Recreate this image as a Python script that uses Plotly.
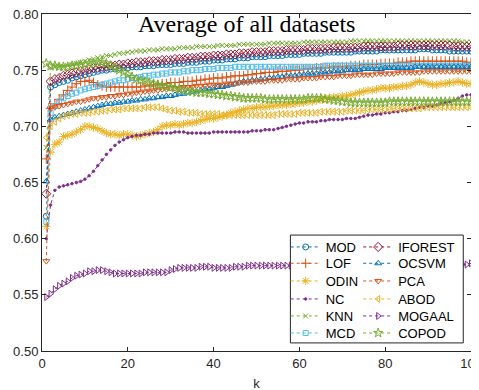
import plotly.graph_objects as go

k = list(range(1, 101))

MOD = [0.620, 0.735, 0.737, 0.739, 0.740, 0.741, 0.743, 0.744, 0.745, 0.746,
       0.747, 0.748, 0.749, 0.750, 0.750, 0.751, 0.751, 0.752, 0.752, 0.752,
       0.753, 0.753, 0.753, 0.754, 0.754, 0.754, 0.755, 0.755, 0.755, 0.755,
       0.756, 0.756, 0.756, 0.757, 0.757, 0.757, 0.758, 0.758, 0.758, 0.759,
       0.759, 0.759, 0.760, 0.760, 0.760, 0.761, 0.761, 0.761, 0.762, 0.762,
       0.762, 0.762, 0.763, 0.763, 0.763, 0.763, 0.764, 0.764, 0.764, 0.764,
       0.765, 0.765, 0.765, 0.765, 0.765, 0.766, 0.766, 0.766, 0.766, 0.766,
       0.766, 0.766, 0.767, 0.767, 0.767, 0.767, 0.767, 0.767, 0.768, 0.768,
       0.768, 0.768, 0.768, 0.768, 0.768, 0.768, 0.768, 0.769, 0.769, 0.769,
       0.768, 0.768, 0.768, 0.768, 0.767, 0.767, 0.767, 0.767, 0.767, 0.767]

IFOREST = [0.640, 0.740, 0.742, 0.743, 0.745, 0.746, 0.747, 0.748, 0.749, 0.750,
           0.751, 0.752, 0.752, 0.753, 0.753, 0.754, 0.754, 0.755, 0.755, 0.756,
           0.756, 0.757, 0.757, 0.757, 0.758, 0.758, 0.758, 0.759, 0.759, 0.759,
           0.760, 0.760, 0.760, 0.761, 0.761, 0.761, 0.762, 0.762, 0.762, 0.763,
           0.763, 0.763, 0.764, 0.764, 0.764, 0.765, 0.765, 0.765, 0.766, 0.766,
           0.766, 0.766, 0.767, 0.767, 0.767, 0.767, 0.768, 0.768, 0.768, 0.768,
           0.768, 0.769, 0.769, 0.769, 0.769, 0.769, 0.769, 0.770, 0.770, 0.770,
           0.770, 0.770, 0.770, 0.770, 0.771, 0.771, 0.771, 0.771, 0.771, 0.771,
           0.771, 0.771, 0.772, 0.772, 0.772, 0.772, 0.772, 0.772, 0.772, 0.772,
           0.772, 0.772, 0.772, 0.772, 0.772, 0.771, 0.771, 0.771, 0.771, 0.771]

KNN = [0.681, 0.752, 0.753, 0.753, 0.753, 0.754, 0.755, 0.756, 0.757, 0.758,
       0.759, 0.760, 0.761, 0.762, 0.763, 0.763, 0.764, 0.765, 0.765, 0.766,
       0.766, 0.767, 0.767, 0.767, 0.768, 0.768, 0.768, 0.769, 0.769, 0.769,
       0.769, 0.770, 0.770, 0.770, 0.770, 0.771, 0.771, 0.771, 0.771, 0.771,
       0.772, 0.772, 0.772, 0.772, 0.772, 0.773, 0.773, 0.773, 0.773, 0.773,
       0.773, 0.773, 0.774, 0.774, 0.774, 0.774, 0.774, 0.774, 0.774, 0.774,
       0.775, 0.775, 0.775, 0.775, 0.775, 0.775, 0.775, 0.775, 0.775, 0.775,
       0.775, 0.776, 0.776, 0.776, 0.776, 0.776, 0.776, 0.776, 0.776, 0.776,
       0.776, 0.776, 0.776, 0.776, 0.776, 0.776, 0.776, 0.776, 0.776, 0.776,
       0.776, 0.776, 0.776, 0.776, 0.776, 0.776, 0.776, 0.775, 0.775, 0.775]

COPOD = [0.756, 0.754, 0.754, 0.753, 0.753, 0.753, 0.754, 0.754, 0.755, 0.755,
         0.756, 0.756, 0.757, 0.757, 0.756, 0.754, 0.752, 0.750, 0.748, 0.746,
         0.744, 0.742, 0.741, 0.740, 0.739, 0.738, 0.737, 0.736, 0.735, 0.735,
         0.734, 0.733, 0.732, 0.731, 0.731, 0.730, 0.730, 0.730, 0.729, 0.729,
         0.728, 0.728, 0.727, 0.727, 0.726, 0.726, 0.725, 0.725, 0.725, 0.725,
         0.725, 0.724, 0.724, 0.724, 0.724, 0.724, 0.724, 0.724, 0.724, 0.724,
         0.724, 0.725, 0.725, 0.725, 0.725, 0.724, 0.724, 0.723, 0.723, 0.722,
         0.722, 0.721, 0.721, 0.721, 0.721, 0.721, 0.721, 0.721, 0.721, 0.721,
         0.722, 0.722, 0.722, 0.722, 0.722, 0.722, 0.722, 0.722, 0.722, 0.722,
         0.722, 0.722, 0.722, 0.722, 0.722, 0.722, 0.722, 0.722, 0.722, 0.722]

MCD = [0.615, 0.712, 0.718, 0.722, 0.725, 0.727, 0.729, 0.730, 0.732, 0.733,
       0.734, 0.735, 0.736, 0.737, 0.738, 0.739, 0.740, 0.741, 0.741, 0.742,
       0.743, 0.743, 0.744, 0.745, 0.745, 0.746, 0.746, 0.747, 0.747, 0.748,
       0.748, 0.748, 0.749, 0.749, 0.750, 0.750, 0.750, 0.751, 0.751, 0.751,
       0.752, 0.752, 0.752, 0.752, 0.753, 0.753, 0.753, 0.753, 0.753, 0.753,
       0.753, 0.753, 0.753, 0.753, 0.753, 0.753, 0.753, 0.753, 0.753, 0.753,
       0.753, 0.753, 0.753, 0.753, 0.753, 0.754, 0.754, 0.754, 0.754, 0.754,
       0.754, 0.754, 0.754, 0.754, 0.754, 0.754, 0.754, 0.754, 0.754, 0.754,
       0.754, 0.754, 0.754, 0.754, 0.754, 0.754, 0.754, 0.754, 0.754, 0.754,
       0.754, 0.754, 0.754, 0.754, 0.754, 0.754, 0.754, 0.754, 0.754, 0.754]

LOF = [0.671, 0.716, 0.720, 0.724, 0.728, 0.732, 0.735, 0.738, 0.740, 0.740,
       0.741, 0.739, 0.737, 0.736, 0.735, 0.735, 0.735, 0.735, 0.735, 0.735,
       0.735, 0.735, 0.735, 0.736, 0.736, 0.737, 0.737, 0.738, 0.738, 0.739,
       0.739, 0.739, 0.740, 0.740, 0.740, 0.741, 0.741, 0.742, 0.742, 0.743,
       0.743, 0.743, 0.744, 0.744, 0.745, 0.745, 0.745, 0.746, 0.746, 0.747,
       0.747, 0.748, 0.748, 0.748, 0.749, 0.749, 0.749, 0.750, 0.750, 0.750,
       0.751, 0.751, 0.751, 0.752, 0.752, 0.752, 0.752, 0.753, 0.753, 0.753,
       0.753, 0.754, 0.754, 0.754, 0.755, 0.755, 0.755, 0.755, 0.756, 0.756,
       0.756, 0.756, 0.757, 0.757, 0.757, 0.758, 0.758, 0.758, 0.758, 0.758,
       0.758, 0.758, 0.758, 0.758, 0.758, 0.758, 0.758, 0.758, 0.757, 0.757]

OCSVM = [0.651, 0.706, 0.708, 0.709, 0.710, 0.711, 0.712, 0.713, 0.714, 0.715,
         0.716, 0.717, 0.718, 0.719, 0.720, 0.720, 0.721, 0.721, 0.722, 0.722,
         0.723, 0.723, 0.724, 0.724, 0.725, 0.725, 0.726, 0.726, 0.727, 0.727,
         0.728, 0.729, 0.729, 0.730, 0.731, 0.731, 0.732, 0.733, 0.733, 0.734,
         0.735, 0.735, 0.736, 0.737, 0.738, 0.739, 0.740, 0.740, 0.741, 0.741,
         0.742, 0.742, 0.743, 0.743, 0.744, 0.744, 0.745, 0.745, 0.745, 0.746,
         0.746, 0.747, 0.747, 0.747, 0.748, 0.748, 0.748, 0.749, 0.749, 0.749,
         0.750, 0.750, 0.750, 0.750, 0.751, 0.751, 0.751, 0.751, 0.751, 0.752,
         0.752, 0.752, 0.752, 0.752, 0.752, 0.752, 0.753, 0.753, 0.753, 0.753,
         0.753, 0.753, 0.753, 0.753, 0.753, 0.753, 0.753, 0.753, 0.753, 0.753]

PCA = [0.580, 0.716, 0.717, 0.718, 0.719, 0.720, 0.721, 0.722, 0.722, 0.723,
       0.724, 0.725, 0.725, 0.726, 0.726, 0.727, 0.727, 0.728, 0.728, 0.729,
       0.729, 0.730, 0.730, 0.731, 0.731, 0.732, 0.732, 0.733, 0.733, 0.734,
       0.734, 0.734, 0.735, 0.735, 0.735, 0.736, 0.736, 0.736, 0.737, 0.737,
       0.737, 0.737, 0.738, 0.738, 0.738, 0.739, 0.739, 0.739, 0.740, 0.740,
       0.740, 0.740, 0.741, 0.741, 0.741, 0.741, 0.742, 0.742, 0.742, 0.742,
       0.743, 0.743, 0.743, 0.743, 0.744, 0.744, 0.744, 0.744, 0.745, 0.745,
       0.745, 0.745, 0.746, 0.746, 0.746, 0.746, 0.746, 0.747, 0.747, 0.747,
       0.747, 0.747, 0.748, 0.748, 0.748, 0.748, 0.748, 0.748, 0.749, 0.749,
       0.749, 0.749, 0.749, 0.749, 0.749, 0.749, 0.749, 0.749, 0.749, 0.749]

ODIN = [0.611, 0.677, 0.684, 0.686, 0.691, 0.692, 0.693, 0.695, 0.697, 0.700,
        0.700, 0.699, 0.698, 0.696, 0.694, 0.693, 0.693, 0.692, 0.693, 0.693,
        0.692, 0.691, 0.692, 0.693, 0.694, 0.695, 0.697, 0.700, 0.701, 0.701,
        0.702, 0.701, 0.702, 0.703, 0.703, 0.704, 0.705, 0.706, 0.707, 0.707,
        0.708, 0.709, 0.710, 0.712, 0.713, 0.714, 0.715, 0.716, 0.716, 0.717,
        0.717, 0.717, 0.718, 0.718, 0.719, 0.719, 0.719, 0.720, 0.720, 0.721,
        0.721, 0.722, 0.722, 0.723, 0.724, 0.725, 0.725, 0.726, 0.726, 0.727,
        0.727, 0.728, 0.729, 0.730, 0.731, 0.732, 0.732, 0.733, 0.734, 0.734,
        0.734, 0.735, 0.735, 0.736, 0.736, 0.737, 0.739, 0.740, 0.739, 0.738,
        0.737, 0.737, 0.738, 0.738, 0.739, 0.739, 0.740, 0.739, 0.738, 0.738]

ABOD = [0.690, 0.700, 0.704, 0.707, 0.709, 0.710, 0.711, 0.711, 0.712, 0.712,
        0.712, 0.713, 0.713, 0.714, 0.714, 0.715, 0.715, 0.715, 0.716, 0.716,
        0.716, 0.716, 0.716, 0.717, 0.717, 0.717, 0.717, 0.716, 0.715, 0.714,
        0.714, 0.713, 0.713, 0.712, 0.712, 0.712, 0.711, 0.711, 0.711, 0.711,
        0.711, 0.710, 0.710, 0.710, 0.710, 0.710, 0.710, 0.710, 0.710, 0.710,
        0.710, 0.710, 0.710, 0.710, 0.711, 0.711, 0.711, 0.711, 0.711, 0.712,
        0.712, 0.712, 0.712, 0.712, 0.713, 0.713, 0.713, 0.713, 0.713, 0.713,
        0.714, 0.714, 0.714, 0.714, 0.714, 0.715, 0.715, 0.715, 0.715, 0.715,
        0.715, 0.716, 0.716, 0.716, 0.716, 0.716, 0.716, 0.716, 0.717, 0.717,
        0.717, 0.717, 0.717, 0.717, 0.717, 0.717, 0.717, 0.717, 0.717, 0.717]

NC = [0.600, 0.630, 0.643, 0.646, 0.647, 0.648, 0.649, 0.650, 0.651, 0.653,
      0.656, 0.660, 0.665, 0.670, 0.675, 0.679, 0.683, 0.686, 0.688, 0.690,
      0.691, 0.692, 0.692, 0.693, 0.693, 0.694, 0.694, 0.694, 0.694, 0.694,
      0.695, 0.695, 0.695, 0.694, 0.694, 0.694, 0.694, 0.694, 0.694, 0.695,
      0.695, 0.695, 0.695, 0.695, 0.695, 0.695, 0.695, 0.695, 0.696, 0.696,
      0.696, 0.697, 0.697, 0.697, 0.698, 0.699, 0.700, 0.701, 0.702, 0.703,
      0.703, 0.704, 0.704, 0.704, 0.705, 0.705, 0.706, 0.706, 0.706, 0.706,
      0.707, 0.707, 0.707, 0.708, 0.709, 0.710, 0.710, 0.711, 0.711, 0.712,
      0.712, 0.713, 0.713, 0.714, 0.714, 0.715, 0.716, 0.717, 0.717, 0.718,
      0.718, 0.719, 0.720, 0.721, 0.722, 0.723, 0.725, 0.727, 0.728, 0.728]

MOGAAL = [0.548, 0.551, 0.555, 0.558, 0.560, 0.562, 0.565, 0.567, 0.568, 0.569,
          0.571, 0.571, 0.572, 0.572, 0.571, 0.570, 0.569, 0.569, 0.569, 0.569,
          0.569, 0.569, 0.569, 0.570, 0.570, 0.570, 0.570, 0.570, 0.570, 0.572,
          0.573, 0.574, 0.574, 0.574, 0.574, 0.574, 0.575, 0.575, 0.575, 0.574,
          0.574, 0.574, 0.574, 0.574, 0.575, 0.575, 0.575, 0.576, 0.576, 0.576,
          0.576, 0.576, 0.576, 0.576, 0.576, 0.576, 0.576, 0.576, 0.576, 0.576,
          0.577, 0.577, 0.577, 0.577, 0.577, 0.577, 0.577, 0.577, 0.577, 0.577,
          0.577, 0.577, 0.577, 0.577, 0.577, 0.577, 0.577, 0.577, 0.577, 0.577,
          0.577, 0.577, 0.577, 0.577, 0.577, 0.577, 0.577, 0.577, 0.577, 0.577,
          0.577, 0.577, 0.577, 0.577, 0.577, 0.577, 0.577, 0.577, 0.577, 0.578]

x_ticks = [0, 20, 40, 60, 80, 100]
y_ticks = [0.50, 0.55, 0.60, 0.65, 0.70, 0.75, 0.80]
y_ticklabels = ["0.50", "0.55", "0.60", "0.65", "0.70", "0.75", "0.80"]

# (name, data, color, symbol, size, legend column, legend row)
series = [
    ("MOD", MOD, "#0072BD", "circle-open", 6, 0, 0),
    ("LOF", LOF, "#D95319", "cross-thin-open", 7, 0, 1),
    ("ODIN", ODIN, "#EDB120", "asterisk-open", 7, 0, 2),
    ("NC", NC, "#7E2F8E", "circle", 2.5, 0, 3),
    ("KNN", KNN, "#77AC30", "x-thin-open", 5, 0, 4),
    ("MCD", MCD, "#4DBEEE", "square-open", 5, 0, 5),
    ("IFOREST", IFOREST, "#A2142F", "diamond-open", 7, 1, 0),
    ("OCSVM", OCSVM, "#0072BD", "triangle-up-open", 6, 1, 1),
    ("PCA", PCA, "#D95319", "triangle-down-open", 6, 1, 2),
    ("ABOD", ABOD, "#EDB120", "triangle-left-open", 6, 1, 3),
    ("MOGAAL", MOGAAL, "#7E2F8E", "triangle-right-open", 6, 1, 4),
    ("COPOD", COPOD, "#77AC30", "star-open", 7, 1, 5),
]

# legend layout (paper coordinates)
col_x = [0.568, 0.737]
row_y = [0.3086, 0.2602, 0.2077, 0.1543, 0.1039, 0.0534]

leg_font = dict(family="Liberation Sans, Arial, sans-serif", size=13, color="#000000")

fig = go.Figure()
legends = {}
for i, (name, vals, color, sym, sz, col, row) in enumerate(series):
    lid = "legend" if i == 0 else f"legend{i + 1}"
    fig.add_trace(go.Scatter(
        x=k, y=vals, name=name, mode="lines+markers", legend=lid,
        line=dict(color=color, width=1, dash="dot"),
        marker=dict(symbol=sym, size=sz, color=color,
                    line=dict(color=color, width=1)),
    ))
    legends[lid] = dict(
        orientation="v", x=col_x[col], y=row_y[row],
        xanchor="left", yanchor="middle",
        bgcolor="rgba(0,0,0,0)", borderwidth=0, font=leg_font,
        itemwidth=30, tracegroupgap=0,
    )

axis_font = dict(family="Liberation Sans, Arial, sans-serif", size=13, color="#262626")

# page body has an 8px offset, margins compensate for it
fig.update_layout(
    width=479, height=390,
    margin=dict(l=34, r=16, t=6, b=47),
    paper_bgcolor="white", plot_bgcolor="white",
    font=axis_font,
    showlegend=True,
    shapes=[dict(
        type="rect", xref="paper", yref="paper",
        x0=0.579, x1=0.982, y0=0.024, y1=0.344,
        fillcolor="white", line=dict(color="#262626", width=1), layer="above",
    )],
    xaxis=dict(
        range=[0, 100], tickvals=x_ticks, ticks="inside", ticklen=4,
        showline=True, linecolor="#262626", linewidth=1, mirror="ticks",
        showgrid=False, zeroline=False, tickcolor="#262626", automargin=False,
        ticklabeloverflow="allow",
        title=dict(text="k", font=dict(size=13, color="#262626"), standoff=9),
    ),
    yaxis=dict(
        range=[0.50, 0.80], tickvals=y_ticks, ticktext=y_ticklabels,
        ticks="inside", ticklen=4, automargin=False, ticklabeloverflow="allow",
        showline=True, linecolor="#262626", linewidth=1, mirror="ticks",
        showgrid=False, zeroline=False, tickcolor="#262626",
    ),
    annotations=[dict(
        text="Average of all datasets", x=0.476, y=1.0, xref="paper", yref="paper",
        xanchor="center", yanchor="top", showarrow=False, yshift=5,
        font=dict(family="Liberation Serif, Times New Roman, serif", size=24, color="#000000"),
    )],
    **legends,
)

fig.write_html("out.html")
